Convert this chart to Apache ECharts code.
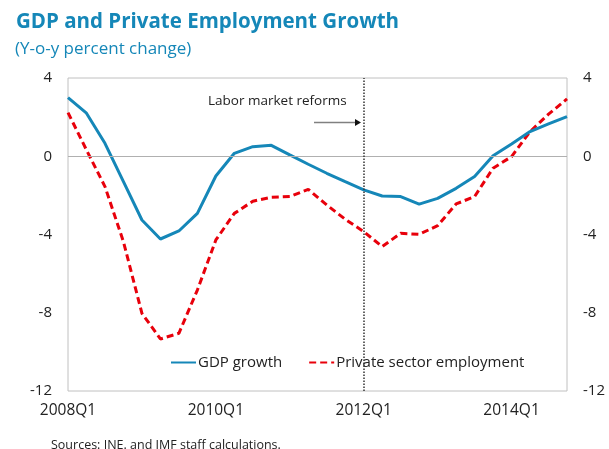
<!DOCTYPE html>
<html>
<head>
<meta charset="utf-8">
<style>
  html, body { margin: 0; padding: 0; background: #ffffff; }
  #chart { width: 609px; height: 449px; }
</style>
<script src="https://cdn.jsdelivr.net/npm/echarts@6/dist/echarts.min.js"></script>
</head>
<body>
<div id="chart"></div>
<script>
// Quarters 2008Q1 .. 2014Q4
const quarters = [];
for (let y = 2008; y <= 2014; y++) {
  for (let q = 1; q <= 4; q++) quarters.push(y + 'Q' + q);
}

// Real GDP growth, y-o-y percent
const gdpGrowth = [
  3.0, 2.2, 0.66, -1.3, -3.26, -4.23, -3.82, -2.92,
  -1.01, 0.15, 0.49, 0.56, 0.07, -0.41, -0.87, -1.3,
  -1.72, -2.03, -2.06, -2.45, -2.15, -1.64, -1.04, 0.02,
  0.63, 1.26, 1.65, 2.03
];

// Private sector employment growth, y-o-y percent
const privateEmployment = [
  2.23, 0.32, -1.55, -4.37, -8.03, -9.34, -9.05, -6.84,
  -4.28, -2.92, -2.3, -2.1, -2.06, -1.69, -2.49, -3.22,
  -3.85, -4.62, -3.94, -3.99, -3.55, -2.44, -2.06, -0.61,
  -0.02, 1.26, 2.15, 2.93
];

const yTicks = { min: -12, max: 4, interval: 4 };
const reformQuarter = '2012Q1';

const blue = '#1587b8';
const red = '#e8000b';
const textColor = '#222222';
const fontFamily = '"Open Sans", "DejaVu Sans", sans-serif';

const chart = echarts.init(document.getElementById('chart'), null, { renderer: 'canvas' });

const yAxisCommon = {
  type: 'value',
  min: yTicks.min,
  max: yTicks.max,
  interval: yTicks.interval,
  axisLine: { show: false },
  axisTick: { show: false },
  splitLine: { show: false },
  axisLabel: { color: textColor, fontSize: 15, fontFamily: fontFamily, margin: 16 }
};

chart.setOption({
  animation: false,
  backgroundColor: '#ffffff',
  textStyle: { fontFamily: fontFamily },
  title: [
    {
      text: 'GDP and Private Employment Growth',
      left: 11, top: 7,
      textStyle: { color: blue, fontSize: 20.5, fontWeight: 'bold', fontFamily: fontFamily }
    },
    {
      text: '(Y-o-y percent change)',
      left: 10, top: 36,
      textStyle: { color: blue, fontSize: 17, fontWeight: 'normal', fontFamily: fontFamily }
    },
    {
      text: 'Sources: INE. and IMF staff calculations.',
      left: 46, top: 434,
      textStyle: { color: textColor, fontSize: 12.5, fontWeight: 'normal', fontFamily: fontFamily }
    }
  ],
  grid: {
    left: 68, right: 42, top: 78, bottom: 58,
    show: true, borderColor: '#c0c0c0', borderWidth: 1,
    containLabel: false
  },
  legend: {
    left: 170, top: 355,
    itemWidth: 25, itemHeight: 14, itemGap: 26,
    padding: 0,
    itemStyle: { opacity: 0 },
    textStyle: { color: textColor, fontSize: 15, fontFamily: fontFamily, padding: [0, 0, 0, -3] },
    data: ['GDP growth', 'Private sector employment']
  },
  xAxis: {
    type: 'category',
    data: quarters,
    boundaryGap: false,
    axisLine: { show: false },
    axisTick: { show: false },
    splitLine: { show: false },
    axisLabel: { interval: 7, color: textColor, fontSize: 15.5, fontFamily: fontFamily, margin: 12 }
  },
  yAxis: [
    Object.assign({ position: 'left' }, yAxisCommon),
    Object.assign({ position: 'right' }, yAxisCommon)
  ],
  series: [
    {
      name: 'GDP growth',
      type: 'line',
      data: gdpGrowth,
      symbol: 'none',
      z: 3,
      lineStyle: { color: blue, width: 3 },
      itemStyle: { color: blue },
      markLine: {
        silent: true,
        symbol: 'none',
        label: { show: false },
        lineStyle: { color: '#b0b0b0', width: 1, type: 'solid' },
        data: [{ yAxis: 0 }]
      }
    },
    {
      name: 'Private sector employment',
      type: 'line',
      data: privateEmployment,
      symbol: 'none',
      z: 2,
      lineStyle: { color: red, width: 3, type: [7, 4] },
      itemStyle: { color: red },
      markLine: {
        silent: true,
        symbol: 'none',
        label: { show: false },
        lineStyle: { color: '#333333', width: 1.5, type: [1.5, 1.5] },
        data: [{ xAxis: reformQuarter }]
      }
    }
  ],
  graphic: [
    {
      type: 'text',
      left: 208, top: 94,
      style: { text: 'Labor market reforms', fill: textColor, fontSize: 13.5, fontFamily: fontFamily }
    },
    {
      type: 'line',
      shape: { x1: 314, y1: 122.5, x2: 356, y2: 122.5 },
      style: { stroke: '#808080', lineWidth: 1.5 }
    },
    {
      type: 'polygon',
      shape: { points: [[355, 119], [361, 122.5], [355, 126]] },
      style: { fill: '#111111' }
    }
  ]
});
</script>
</body>
</html>
